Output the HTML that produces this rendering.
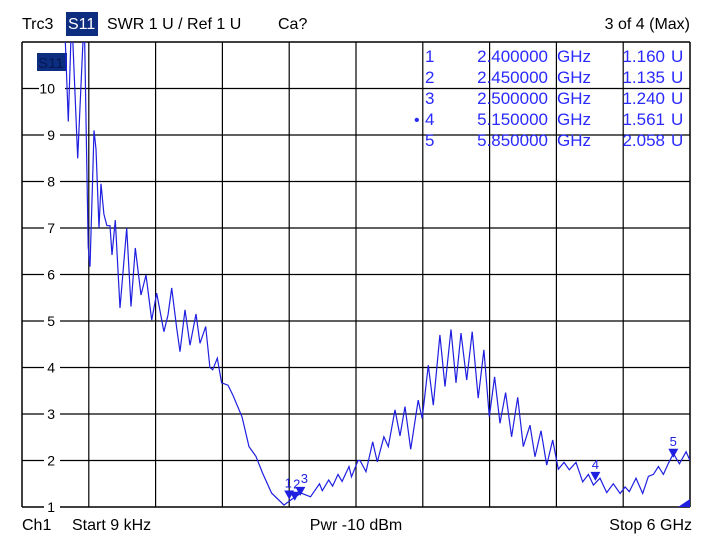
<!DOCTYPE html>
<html><head><meta charset="utf-8"><style>
body{margin:0;background:#fff;}
svg{display:block;font-family:"Liberation Sans",Arial,sans-serif;}
</style></head><body>
<svg id="chart" width="712" height="540" viewBox="0 0 712 540">
<defs><clipPath id="plotclip"><rect x="22" y="42" width="668" height="465"/></clipPath></defs>
<g id="grid"></g>
<g id="yticks"></g>
<text x="22" y="29" font-size="16">Trc3</text>
<rect x="66" y="12" width="32" height="24" fill="#0d2d80"/>
<text x="68" y="29" font-size="16" fill="#fff">S11</text>
<text x="107" y="29" font-size="16">SWR  1 U /  Ref 1 U</text>
<text x="278" y="29" font-size="16">Ca?</text>
<text x="690" y="29" font-size="16" text-anchor="end">3 of 4 (Max)</text>
<rect x="37" y="53" width="30" height="18" fill="#0d2d80"/>
<text x="38" y="68" font-size="15" fill="#051a55">S11</text>
<g id="table"></g>
<path id="trace" fill="none" stroke="#1f1fe0" stroke-width="1.2" clip-path="url(#plotclip)"/>
<g id="markers"></g>
<polygon points="678,507 690,507 690,499" fill="#1f1fe0"/>
<text x="22" y="530" font-size="16">Ch1</text>
<text x="72" y="530" font-size="16">Start  9 kHz</text>
<text x="356" y="530" font-size="16" text-anchor="middle">Pwr  -10 dBm</text>
<text x="692" y="530" font-size="16" text-anchor="end">Stop  6 GHz</text>
</svg>
<script>
const freqs=[0,0.38,0.416,0.446,0.5,0.559,0.595,0.611,0.635,0.647,0.665,0.692,0.71,0.736,0.763,0.79,0.808,0.838,0.88,0.94,0.979,1.018,1.069,1.114,1.165,1.21,1.275,1.311,1.345,1.39,1.419,1.464,1.509,1.563,1.599,1.65,1.688,1.713,1.754,1.793,1.85,1.895,1.976,2.039,2.101,2.161,2.242,2.353,2.425,2.506,2.591,2.672,2.697,2.755,2.79,2.838,2.875,2.937,2.96,3.018,3.036,3.09,3.15,3.191,3.251,3.29,3.35,3.395,3.44,3.491,3.559,3.595,3.649,3.694,3.754,3.799,3.853,3.898,3.943,3.994,4.044,4.098,4.149,4.197,4.245,4.293,4.344,4.398,4.452,4.503,4.563,4.608,4.662,4.713,4.767,4.817,4.868,4.916,4.976,5.036,5.087,5.132,5.192,5.252,5.311,5.372,5.417,5.455,5.515,5.575,5.626,5.671,5.716,5.761,5.806,5.851,5.905,5.965,6.0];
const swr=[12,11.6,9.29,11.6,8.5,11.6,6.6,6.17,8.1,9.1,8.7,7.0,7.95,7.3,7.05,7.05,6.42,7.17,5.28,7.0,5.31,6.57,5.56,5.99,5.02,5.6,4.77,5.13,5.71,4.83,4.34,5.24,4.48,5.15,4.52,4.88,4.0,3.95,4.2,3.67,3.62,3.4,2.94,2.3,2.09,1.73,1.3,1.04,1.17,1.3,1.22,1.5,1.35,1.58,1.45,1.7,1.55,1.87,1.65,2.0,2.0,1.76,2.4,1.97,2.51,2.3,3.09,2.53,3.16,2.24,3.3,2.9,4.05,3.19,4.7,3.59,4.82,3.67,4.74,3.73,4.77,3.34,4.38,2.94,3.8,2.8,3.46,2.51,3.36,2.3,2.76,2.08,2.64,1.9,2.44,1.81,1.96,1.8,1.96,1.54,1.7,1.47,1.62,1.31,1.5,1.29,1.43,1.33,1.62,1.29,1.66,1.7,1.87,1.7,1.94,2.15,1.93,2.19,2.0];
const yTicks=[1,2,3,4,5,6,7,8,9,10];
const markerIds=["1","2","3","4","5"];
const markerFreqs=[2.4,2.45,2.5,5.15,5.85];
const markerVals=[1.16,1.135,1.24,1.561,2.058];
const markerFreqText=["2.400000","2.450000","2.500000","5.150000","5.850000"];
const markerValText=["1.160","1.135","1.240","1.561","2.058"];
const NS="http://www.w3.org/2000/svg";
const X0=22,X1=690,Y0=507,Y1=42;
const xs=f=>X0+(f/6)*(X1-X0);
const ys=v=>Y0-(v-1)/10*(Y0-Y1);
function mk(t,attrs,parent,txt){const e=document.createElementNS(NS,t);for(const k in attrs)e.setAttribute(k,attrs[k]);if(txt!==undefined)e.textContent=txt;parent.appendChild(e);return e;}
const grid=document.getElementById('grid');
for(let i=0;i<=10;i++){const x=X0+i*(X1-X0)/10;
const l=mk('line',{x1:x,x2:x,y1:Y1,y2:Y0,stroke:'#000','stroke-width':i==0||i==10?1.5:1.2},grid);

}
const yt=document.getElementById('yticks');
for(let v=1;v<=11;v++){const y=ys(v);
const l=mk('line',{x1:X0,x2:X1,y1:y,y2:y,stroke:'#000','stroke-width':v==1||v==11?1.5:1.2},grid);

}
yTicks.forEach(v=>{const y=ys(v);const w=v>=10?22:12;
const r=mk('rect',{x:52-w/2-2,y:y-8,width:w+4,height:16,fill:'#fff'},yt);


const t=mk('text',{x:55,y:y+5,'font-size':14,'text-anchor':'end'},yt,String(v));

});
let d='';freqs.forEach((f,i)=>{d+=(i?'L':'M')+xs(f).toFixed(1)+','+ys(swr[i]).toFixed(1);});
document.getElementById('trace').setAttribute('d',d);
const mg=document.getElementById('markers');
markerIds.forEach((id,i)=>{const x=xs(markerFreqs[i]),y=ys(markerVals[i]);
const p=mk('polygon',{points:`${x-5},${y-9} ${x+5},${y-9} ${x},${y}`,fill:'#1f1fe0'},mg);


const dx=id=="1"?-1:id=="2"?2:id=="3"?4:0;
const dy=id=="3"?-13:-12;
const t=mk('text',{x:x+dx,y:y+dy,'font-size':13,fill:'#1f1fe0','text-anchor':'middle'},mg,id);

});
const tb=document.getElementById('table');
markerIds.forEach((id,i)=>{const y=62+i*21;
if(id=="4"){const dot=mk('text',{x:414,y:y,'font-size':16,fill:'#2a2aff'},tb,'•');

}
const a=mk('text',{x:425,y:y,'font-size':17,fill:'#2a2aff'},tb,id);


const b=mk('text',{x:548,y:y,'font-size':17,fill:'#2a2aff','text-anchor':'end'},tb,markerFreqText[i]);


const c=mk('text',{x:557,y:y,'font-size':17,fill:'#2a2aff'},tb,'GHz');


const e=mk('text',{x:665,y:y,'font-size':17,fill:'#2a2aff','text-anchor':'end'},tb,markerValText[i]);


const u=mk('text',{x:671,y:y,'font-size':17,fill:'#2a2aff'},tb,'U');

});
</script>
</body></html>
